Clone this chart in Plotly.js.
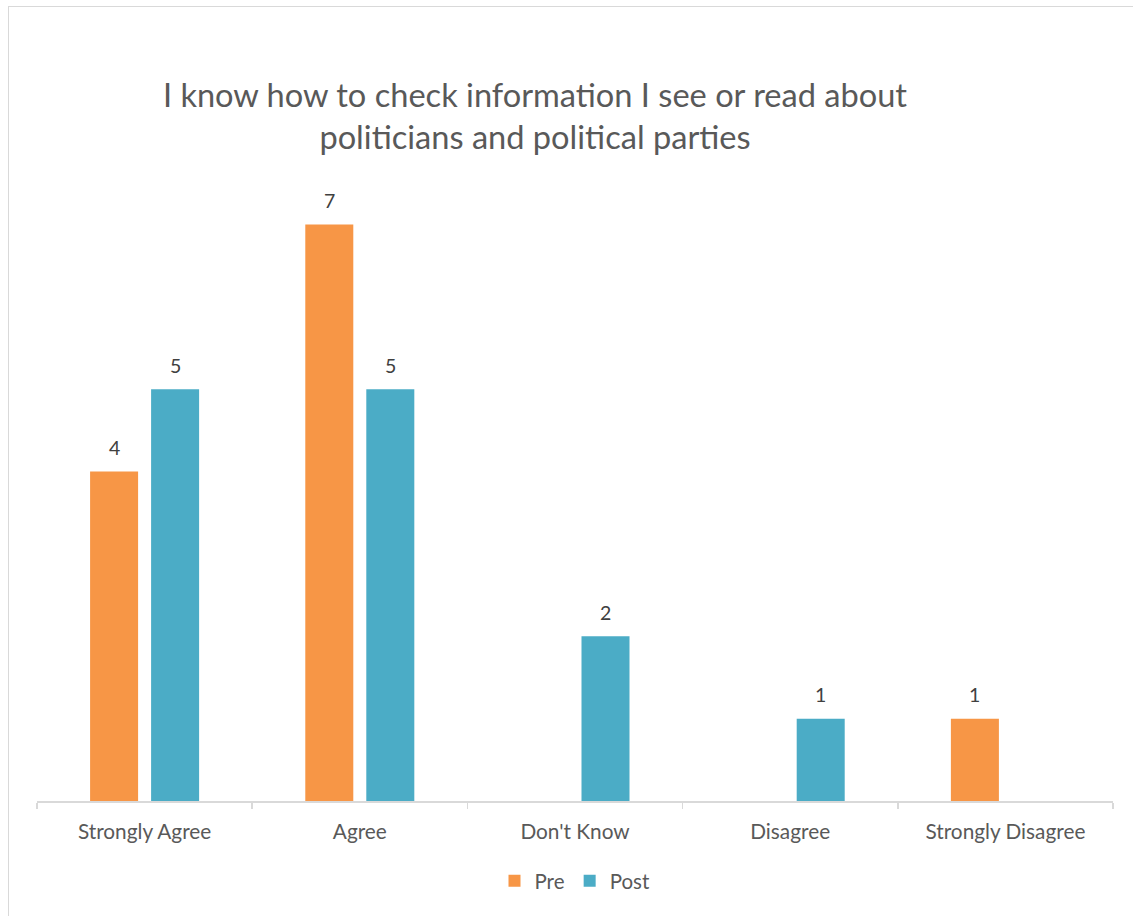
<!DOCTYPE html>
<html>
<head>
<meta charset="utf-8">
<script src="https://cdn.plot.ly/plotly-3.0.1.min.js"></script>
<style>
  html, body { margin: 0; padding: 0; background: #ffffff; }
  #wrap { position: relative; width: 1133px; height: 916px; overflow: hidden; }
  #chart { width: 1133px; height: 916px; }
  #frame { position: absolute; left: 8px; top: 6px; width: 1140px; height: 930px;
           border: 1px solid #d9d9d9; pointer-events: none; box-sizing: border-box; }
</style>
</head>
<body>
<div id="wrap">
  <div id="chart"></div>
  <div id="frame"></div>
</div>
<script>
const categories = ["Strongly Agree", "Agree", "Don't Know", "Disagree", "Strongly Disagree"];
const preValues  = [4, 7, null, null, 1];
const postValues = [5, 5, 2, 1, null];
const seriesNames = ["Pre", "Post"];
const seriesColors = ["#f79646", "#4bacc6"];

const fontFamily = "Lato, 'Open Sans', sans-serif";

const traces = [
  { type: "bar", name: seriesNames[0], x: categories, y: preValues,
    marker: { color: seriesColors[0] }, hoverinfo: "x+y" },
  { type: "bar", name: seriesNames[1], x: categories, y: postValues,
    marker: { color: seriesColors[1] }, hoverinfo: "x+y" }
];

const annotations = [];
[preValues, postValues].forEach((vals, si) => {
  vals.forEach((v, i) => {
    if (v === null || v === undefined) return;
    annotations.push({
      x: categories[i], y: v, xref: "x", yref: "y",
      text: String(v), showarrow: false,
      xshift: si === 0 ? -30.5 : 30.5,
      yanchor: "middle", yshift: 24,
      font: { family: fontFamily, size: 19.5, color: "#404040" }
    });
  });
});

const layout = {
  width: 1133, height: 916,
  paper_bgcolor: "rgba(0,0,0,0)", plot_bgcolor: "rgba(0,0,0,0)",
  margin: { l: 37, r: 20, t: 142, b: 115 },
  title: {
    text: "I know how to check information I see or read about<br>politicians and political parties",
    font: { family: fontFamily, size: 32.6, color: "#595959" },
    x: 535 / 1133, xanchor: "center", xref: "container",
    y: 1 - 107 / 916, yanchor: "middle", yref: "container"
  },
  barmode: "group",
  bargap: 0.433,
  bargroupgap: 0.213,
  xaxis: {
    type: "category",
    showline: true, linecolor: "#d9d9d9", linewidth: 1.5,
    ticks: "outside", tickson: "boundaries", ticklen: 6, tickcolor: "#d9d9d9", tickwidth: 1.5,
    tickfont: { family: fontFamily, size: 20.8, color: "#595959" },
    ticklabelstandoff: 12,
    showgrid: false, zeroline: false
  },
  yaxis: {
    range: [0, 8], visible: false, showgrid: false, zeroline: false
  },
  showlegend: true,
  legend: {
    orientation: "h", x: 575 / 1133, xref: "container", xanchor: "center",
    y: 1 - 881 / 916, yref: "container", yanchor: "middle",
    font: { family: fontFamily, size: 20.5, color: "#595959" },
    itemwidth: 30, traceorder: "normal"
  },
  annotations: annotations
};

Plotly.newPlot("chart", traces, layout, { displayModeBar: false, staticPlot: true });
</script>
</body>
</html>
